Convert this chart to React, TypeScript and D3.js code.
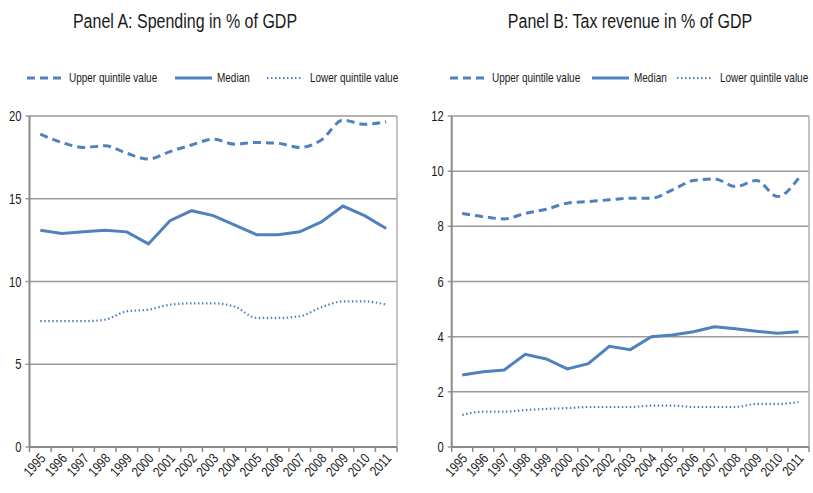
import React from "react";
import * as d3 from "d3";

const years = ["1995","1996","1997","1998","1999","2000","2001","2002","2003","2004","2005","2006","2007","2008","2009","2010","2011"];

const spendUpper = [18.9,18.4,18.1,18.2,17.75,17.4,17.85,18.25,18.6,18.3,18.4,18.35,18.1,18.55,19.75,19.5,19.65];
const spendMedian = [13.1,12.9,13.0,13.1,13.0,12.27,13.67,14.28,13.98,13.4,12.83,12.83,13.0,13.6,14.56,13.98,13.2];
const spendLower = [7.6,7.6,7.6,7.7,8.2,8.3,8.6,8.68,8.68,8.48,7.8,7.8,7.9,8.44,8.8,8.8,8.6];

const taxUpper = [8.47,8.35,8.27,8.47,8.62,8.84,8.9,8.96,9.02,9.02,9.32,9.66,9.72,9.44,9.66,9.08,9.74];
const taxMedian = [2.61,2.73,2.79,3.36,3.19,2.83,3.02,3.65,3.53,4.0,4.06,4.18,4.36,4.29,4.2,4.12,4.18];
const taxLower = [1.16,1.28,1.28,1.34,1.38,1.41,1.45,1.45,1.45,1.5,1.5,1.45,1.45,1.45,1.56,1.56,1.63];

const spendTicks = [0,5,10,15,20];
const taxTicks = [0,2,4,6,8,10,12];

const legendLabels = ["Upper quintile value","Median","Lower quintile value"];

const BLUE = "#4F81BD";
const FONT = "'Liberation Sans', Arial, sans-serif";
const NARROW = 0.8;

function NText(props: { x: number; y: number; size: number; anchor?: string; rotate?: number; children: React.ReactNode }) {
  const rot = props.rotate ? ` rotate(${props.rotate})` : "";
  return (
    <text transform={`translate(${props.x},${props.y})${rot} scale(${NARROW},1)`}
      textAnchor={props.anchor || "start"} fontFamily={FONT} fontSize={props.size} fill="#1a1a1a">
      {props.children}
    </text>
  );
}

type PanelProps = {
  title: string;
  titleX: number;
  x0: number; x1: number;
  yMax: number;
  ticks: number[];
  upper: number[]; median: number[]; lower: number[];
  legendX: number[];
};

const Y_TOP = 116;
const Y_BOT = 447;

function Panel(p: PanelProps) {
  const x = d3.scaleBand<string>().domain(years).range([p.x0, p.x1]);
  const y = d3.scaleLinear().domain([0, p.yMax]).range([Y_BOT, Y_TOP]);
  const cx = (d: string) => (x(d) as number) + x.bandwidth() / 2;
  const smooth = d3.line<number>().x((_, i) => cx(years[i])).y(v => y(v)).curve(d3.curveMonotoneX);
  const straight = d3.line<number>().x((_, i) => cx(years[i])).y(v => y(v));
  const boundaries = years.map(d => x(d) as number).concat([p.x1]);
  const lx = p.legendX;
  const ly = 78;
  return (
    <g>
      <NText x={p.titleX} y={28} size={20} anchor="middle">{p.title}</NText>
      {/* legend */}
      <line x1={lx[0]} x2={lx[0] + 36} y1={ly} y2={ly} stroke={BLUE} strokeWidth={3} strokeDasharray="8,5" />
      <NText x={lx[0] + 42} y={ly + 4} size={12.5}>{legendLabels[0]}</NText>
      <line x1={lx[1]} x2={lx[1] + 37} y1={ly} y2={ly} stroke={BLUE} strokeWidth={3} />
      <NText x={lx[1] + 42} y={ly + 4} size={12.5}>{legendLabels[1]}</NText>
      <line x1={lx[2]} x2={lx[2] + 36} y1={ly} y2={ly} stroke={BLUE} strokeWidth={2} strokeDasharray="1.5,2.5" />
      <NText x={lx[2] + 43} y={ly + 4} size={12.5}>{legendLabels[2]}</NText>
      {/* grid */}
      {p.ticks.map(t => (
        <g key={t}>
          <line x1={p.x0 - 4} x2={p.x1} y1={y(t)} y2={y(t)} stroke="#9a9a9a" strokeWidth={1.5} />
          <NText x={p.x0 - 8} y={y(t) + 5} size={14} anchor="end">{t}</NText>
        </g>
      ))}
      <line x1={p.x1} x2={p.x1} y1={Y_TOP} y2={Y_BOT} stroke="#b0b0b0" strokeWidth={1.5} />
      <line x1={p.x0} x2={p.x0} y1={Y_TOP} y2={Y_BOT} stroke="#8a8a8a" strokeWidth={2} />
      <line x1={p.x0} x2={p.x1} y1={Y_BOT} y2={Y_BOT} stroke="#8a8a8a" strokeWidth={2} />
      {boundaries.map((b, i) => (
        <line key={i} x1={b} x2={b} y1={Y_BOT} y2={Y_BOT + 5} stroke="#8a8a8a" strokeWidth={1.5} />
      ))}
      {years.map(d => (
        <NText key={d} x={cx(d) + 6} y={Y_BOT + 12} size={14} anchor="end" rotate={-48}>{d}</NText>
      ))}
      {/* lines */}
      <path d={smooth(p.upper) || ""} fill="none" stroke={BLUE} strokeWidth={3} strokeDasharray="8,5" />
      <path d={straight(p.median) || ""} fill="none" stroke={BLUE} strokeWidth={3} />
      <path d={smooth(p.lower) || ""} fill="none" stroke={BLUE} strokeWidth={2.2} strokeDasharray="1.5,2.5" />
    </g>
  );
}

export default function App() {
  return (
    <svg width={813} height={493} style={{ position: "absolute", left: 0, top: 0, background: "#fff" }}>
      <rect width={813} height={493} fill="#fff" />
      <Panel title="Panel A: Spending in % of GDP" titleX={185} x0={29.5} x1={397} yMax={20} ticks={spendTicks}
        upper={spendUpper} median={spendMedian} lower={spendLower} legendX={[27, 175, 267]} />
      <Panel title="Panel B: Tax revenue in % of GDP" titleX={630} x0={451.7} x1={809} yMax={12} ticks={taxTicks}
        upper={taxUpper} median={taxMedian} lower={taxLower} legendX={[450, 592, 677]} />
    </svg>
  );
}
